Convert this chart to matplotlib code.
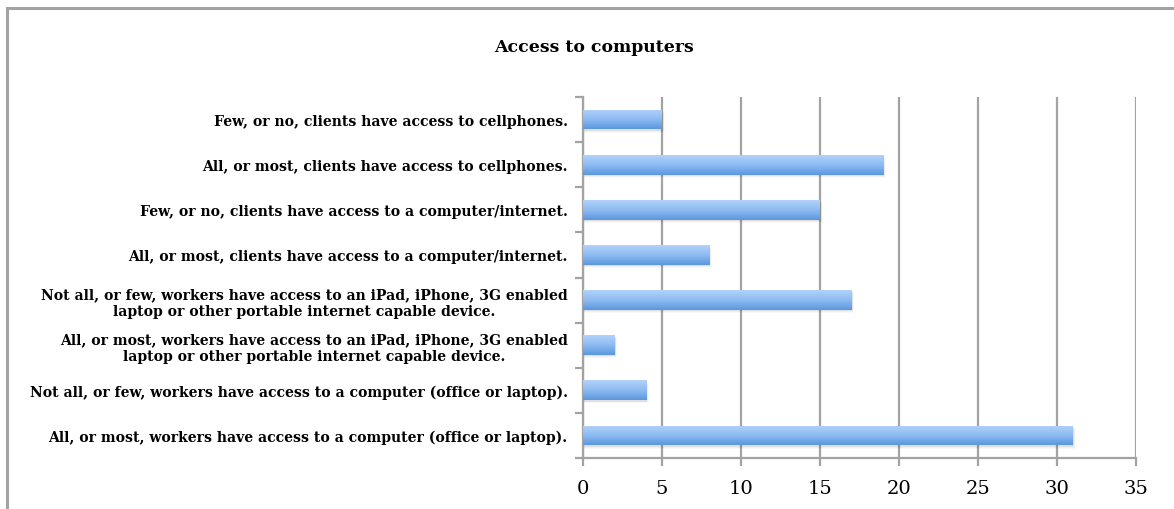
import numpy as np
import matplotlib
matplotlib.use("Agg")
import matplotlib.pyplot as plt
from matplotlib.patches import Rectangle
from matplotlib.colors import LinearSegmentedColormap

# Data (top to bottom as shown in the chart)
labels = [
    "Few, or no, clients have access to cellphones.",
    "All, or most, clients have access to cellphones.",
    "Few, or no, clients have access to a computer/internet.",
    "All, or most, clients have access to a computer/internet.",
    "Not all, or few, workers have access to an iPad, iPhone, 3G enabled\nlaptop or other portable internet capable device.",
    "All, or most, workers have access to an iPad, iPhone, 3G enabled\nlaptop or other portable internet capable device.",
    "Not all, or few, workers have access to a computer (office or laptop).",
    "All, or most, workers have access to a computer (office or laptop).",
]
values = [5, 19, 15, 8, 17, 2, 4, 31]
x_ticks = [0, 5, 10, 15, 20, 25, 30, 35]
title = "Access to computers"

W, H = 1174, 510
fig = plt.figure(figsize=(W / 100, H / 100), dpi=100)
fig.patch.set_facecolor("white")

# outer frame (only left and top edges visible in the crop)
fig.patches.append(Rectangle((7 / W, -0.2), 1.5, 1.2 - 9 / H, transform=fig.transFigure,
                             fill=False, edgecolor="#a3a3a3", lw=2.2))

left, right, top, bottom = 583, 1136, 98, 459
ax = fig.add_axes([left / W, 1 - bottom / H, (right - left) / W, (bottom - top) / H])

n = len(values)
pos = np.arange(n)
bars = ax.barh(pos, values, height=0.44, color="none", edgecolor="none", zorder=3)

# gradient fill + soft shadow for each bar
cmap = LinearSegmentedColormap.from_list("bar", ["#b2d2fa", "#8dbbf1", "#5b97de"])
grad = np.linspace(0, 1, 64).reshape(-1, 1)
for b in bars:
    x0, y0 = b.get_x(), b.get_y()
    w, h = b.get_width(), b.get_height()
    for k, a in enumerate([0.06, 0.04, 0.025]):
        sh = Rectangle((x0, y0 + 0.03 + 0.02 * k), w + 0.06 + 0.05 * k, h,
                       facecolor="#000000", alpha=a, edgecolor="none", zorder=2)
        ax.add_patch(sh)
    im = ax.imshow(grad, cmap=cmap, aspect="auto", extent=(x0, x0 + w, y0 + h, y0),
                   zorder=3, interpolation="bilinear")
    im.set_clip_path(b)

ax.set_xlim(0, 35)
ax.set_ylim(n - 0.5, -0.5)

# grid / spines
ax.set_xticks(x_ticks)
ax.xaxis.grid(True, color="#a3a3a3", lw=1.6, zorder=1)
ax.set_axisbelow(True)
for s in ["top", "right"]:
    ax.spines[s].set_visible(False)
for s in ["left", "bottom"]:
    ax.spines[s].set_color("#a3a3a3")
    ax.spines[s].set_linewidth(1.6)

serif = ["DejaVu Serif"]
ax.set_xticklabels([str(t) for t in x_ticks], fontsize=14, family=serif)
ax.tick_params(axis="x", length=6, width=1.6, color="#a3a3a3", pad=9)

ax.set_yticks(pos)
ax.set_yticklabels(labels, fontsize=10.1, fontweight="bold", family=serif,
                   multialignment="center", linespacing=1.2)
ax.tick_params(axis="y", which="major", length=0, pad=11)
ax.set_yticks(np.arange(n + 1) - 0.5, minor=True)
ax.tick_params(axis="y", which="minor", length=6, width=1.6, color="#a3a3a3")

fig.text(594 / W, 1 - 48 / H, title, ha="center", va="center", fontsize=12.4,
         fontweight="bold", family=serif)

fig.savefig("out.png", dpi=100, facecolor="white")
